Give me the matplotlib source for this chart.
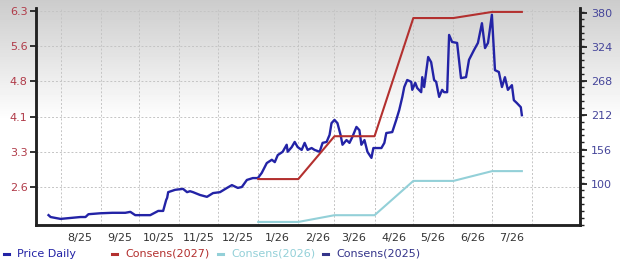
import numpy as np
import pandas as pd
import matplotlib
matplotlib.use("Agg")
import matplotlib.pyplot as plt
from matplotlib.lines import Line2D
from matplotlib.ticker import MultipleLocator

# price, daily (left axis) -- days counted from 2025-08-01
START = "2025-08-01"
price_days = [-9.3, -7.7, -3.9, 0, 7.7, 15.4, 19.3, 21.6, 30.8, 40.1, 50.1, 54, 57.8, 69.4,
              75.6, 79.4, 81.7, 82.5, 83.3, 88.7, 94.8, 97.9, 100.2, 102.5, 107.9, 113.3,
              118, 123.4, 128.8, 132.6, 137.2, 140.3, 144.2, 148.8, 152.7, 155.7, 159.6,
              163.5, 165.8, 168.1, 171.9, 175, 175.8, 178.9, 181.2, 183.5, 186.6, 188.9,
              191.2, 194.3, 196.6, 200.5, 202.8, 205.9, 208.2, 209.7, 212, 214.3, 216.7,
              218.2, 221.3, 223.6, 225.9, 229, 231.3, 232.8, 235.2, 237.5, 240.6, 242.1,
              248.3, 250.6, 252.1, 256.7, 259.8, 262.1, 264.5, 266, 268.3, 271.4, 272.2,
              274.5, 276, 279.1, 279.9, 281.4, 284.5, 286.8, 289.1, 290.7, 293, 295.3,
              296.8, 299.2, 300.7, 303, 306.9, 309.9, 313.8, 316.1, 320, 323, 326.1, 328.5,
              330.8, 333.8, 336.2, 339.2, 341.6, 343.9, 346.2, 349.3, 350.8, 353.1, 356.2, 357]
price_vals = [2.00, 1.96, 1.94, 1.92, 1.94, 1.96, 1.96, 2.02, 2.04, 2.05, 2.05, 2.07, 2.00, 2.00,
              2.09, 2.09, 2.32, 2.37, 2.49, 2.54, 2.56, 2.49, 2.51, 2.49, 2.43, 2.39,
              2.47, 2.49, 2.58, 2.64, 2.58, 2.60, 2.75, 2.79, 2.79, 2.90, 3.11,
              3.18, 3.13, 3.28, 3.35, 3.50, 3.35, 3.45, 3.56, 3.45, 3.39, 3.54,
              3.39, 3.43, 3.39, 3.35, 3.54, 3.56, 3.71, 3.96, 4.03, 3.96, 3.71,
              3.50, 3.60, 3.54, 3.67, 3.88, 3.81, 3.50, 3.60, 3.35, 3.22, 3.43,
              3.43, 3.54, 3.75, 3.77, 4.03, 4.24, 4.52, 4.73, 4.88, 4.84, 4.67,
              4.82, 4.71, 4.62, 4.94, 4.73, 5.37, 5.26, 4.88, 4.84, 4.52, 4.67,
              4.62, 4.62, 5.84, 5.69, 5.67, 4.92, 4.94, 5.31, 5.52, 5.67, 6.09, 5.56,
              5.67, 6.27, 5.09, 5.05, 4.73, 4.94, 4.67, 4.77, 4.45, 4.39, 4.30, 4.13]

# consensus estimates (right axis)
cons_dates = ["2026-01-01", "2026-02-01", "2026-03-01", "2026-04-01",
              "2026-05-01", "2026-06-01", "2026-07-01", "2026-07-24"]
cons27_vals = [108, 108, 178, 178, 371, 371, 381, 381]
cons26_vals = [38, 38, 49, 49, 105, 105, 121, 121]

left_ticks = [2.6, 3.35, 4.1, 4.85, 5.6, 6.35]
left_labels = ["2.6", "3.3", "4.1", "4.8", "5.6", "6.3"]
right_ticks = [100, 156, 212, 268, 324, 380]
month_labels = ["8/25", "9/25", "10/25", "11/25", "12/25", "1/26",
                "2/26", "3/26", "4/26", "5/26", "6/26", "7/26"]

BLUE = "#2323a6"
RED = "#b3302f"
LBLUE = "#93d0d8"
NAVY = "#34348a"

plt.rcParams['font.family'] = ['DejaVu Sans']
fig = plt.figure(figsize=(6.2, 2.68), dpi=100)

# background gradient
bg = fig.add_axes([0, 0, 1, 1], zorder=-10)
grad = np.clip(0.80 + 0.20 * np.linspace(0, 1, 268) / 0.45, 0, 1)
bg.imshow(np.repeat(grad[:, None], 2, axis=1), cmap="gray", vmin=0, vmax=1,
          aspect="auto", extent=[0, 1, 0, 1])
bg.axis("off")

ax = fig.add_axes([36 / 620, 1 - 225 / 268, 544 / 620, 217 / 268])
ax.patch.set_alpha(0)
ax2 = ax.twinx()

pdates = pd.Timestamp(START) + pd.to_timedelta(price_days, unit="D")
cdates = pd.to_datetime(cons_dates)
ax.plot(pdates, price_vals, color=BLUE, lw=1.7, zorder=5)
ax2.plot(cdates, cons27_vals, color=RED, lw=1.5)
ax2.plot(cdates, cons26_vals, color=LBLUE, lw=1.5)

ax.set_xlim(pd.Timestamp("2025-07-13"), pd.Timestamp("2026-09-07"))
ax.set_ylim(1.79, 6.414)
ax2.set_ylim(33.0, 387.4)

months = pd.date_range("2025-08-01", "2026-08-01", freq="MS")
ax.set_xticks(months)
ax.set_xticklabels([])
ax.set_xticks(months[:-1] + pd.Timedelta(days=15), minor=True)
ax.set_xticklabels(month_labels, minor=True)
ax.tick_params(axis="x", which="both", length=0, pad=6, labelsize=8, labelcolor="#333333")
ax.grid(True, which="major", color="#c4c4c4", ls=(0, (2, 2)), lw=0.7)

ax.set_yticks(left_ticks)
ax.set_yticklabels(left_labels)
ax.tick_params(axis="y", length=4, width=1.3, color="#222222", labelsize=8,
               labelcolor="#b03a48", pad=2)

ax2.set_yticks(right_ticks)
ax2.yaxis.set_minor_locator(MultipleLocator(11.2))
ax2.tick_params(axis="y", which="major", length=5, width=1.3, color="#222222",
                labelsize=8, labelcolor="#45459a", pad=3)
ax2.tick_params(axis="y", which="minor", length=3, width=1.0, color="#222222")

for a in (ax, ax2):
    a.spines["top"].set_visible(False)
    for s in ("left", "right", "bottom"):
        a.spines[s].set_linewidth(1.8)
        a.spines[s].set_color("#222222")

# legend
items = [("Price Daily", BLUE, 4), ("Consens(2027)", RED, 112),
         ("Consens(2026)", LBLUE, 218), ("Consens(2025)", NAVY, 323)]
ly = 1 - 254 / 268
for label, col, px in items:
    fig.add_artist(Line2D([px / 620, (px + 5) / 620], [ly, ly], color=col, lw=2.2,
                          transform=fig.transFigure))
    fig.text((px + 13) / 620, ly, label, color=col, fontsize=8, va="center", ha="left")

fig.savefig("out.png", dpi=100)
